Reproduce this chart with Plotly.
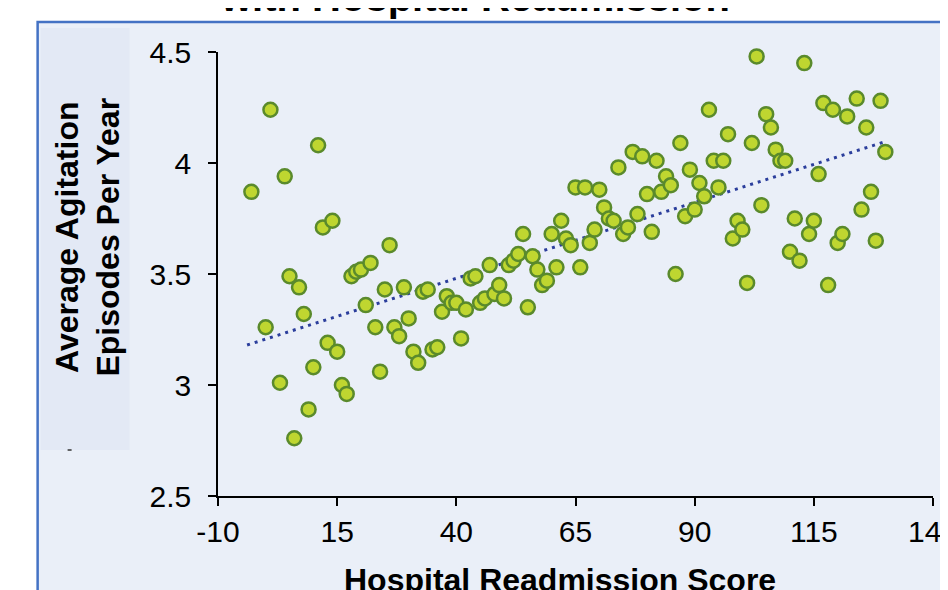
import plotly.graph_objects as go

# ---- data ----
readmission_score = [
    -3, 0, 1, 3, 4, 5, 6, 7, 8, 9, 10, 11, 12, 13, 14, 15, 16, 17, 18, 19,
    20, 21, 22, 23, 24, 25, 26, 27, 28, 29, 30, 31, 32, 33, 34, 35, 36, 37, 38, 39,
    40, 41, 42, 43, 44, 45, 46, 47, 48, 49, 50, 51, 52, 53, 54, 55, 56, 57, 58, 59,
    60, 61, 62, 63, 64, 65, 66, 67, 68, 69, 70, 71, 72, 73, 74, 75, 76, 77, 78, 79,
    80, 81, 82, 83, 84, 85, 86, 87, 88, 89, 90, 91, 92, 93, 94, 95, 96, 97, 98, 99,
    100, 101, 102, 103, 104, 105, 106, 107, 108, 109, 110, 111, 112, 113, 114, 115,
    116, 117, 118, 119, 120, 121, 122, 124, 125, 126, 127, 128, 129, 130,
]
agitation_episodes = [
    3.87, 3.26, 4.24, 3.01, 3.94, 3.49, 2.76, 3.44, 3.32, 2.89, 3.08, 4.08, 3.71, 3.19, 3.74, 3.15, 3.00, 2.96, 3.49, 3.51,
    3.52, 3.36, 3.55, 3.26, 3.06, 3.43, 3.63, 3.26, 3.22, 3.44, 3.30, 3.15, 3.10, 3.42, 3.43, 3.16, 3.17, 3.33, 3.40, 3.37,
    3.37, 3.21, 3.34, 3.48, 3.49, 3.37, 3.39, 3.54, 3.41, 3.45, 3.39, 3.54, 3.56, 3.59, 3.68, 3.35, 3.58, 3.52, 3.45, 3.47,
    3.68, 3.53, 3.74, 3.66, 3.63, 3.89, 3.53, 3.89, 3.64, 3.70, 3.88, 3.80, 3.75, 3.74, 3.98, 3.68, 3.71, 4.05, 3.77, 4.03,
    3.86, 3.69, 4.01, 3.87, 3.94, 3.90, 3.50, 4.09, 3.76, 3.97, 3.79, 3.91, 3.85, 4.24, 4.01, 3.89, 4.01, 4.13, 3.66, 3.74,
    3.70, 3.46, 4.09, 4.48, 3.81, 4.22, 4.16, 4.06, 4.01, 4.01, 3.60, 3.75, 3.56, 4.45, 3.68, 3.74,
    3.95, 4.27, 3.45, 4.24, 3.64, 3.68, 4.21, 4.29, 3.79, 4.16, 3.87, 3.65, 4.28, 4.05,
]
trend_x = [-3.9, 129.8]
trend_y = [3.18, 4.095]

x_ticks = [-10, 15, 40, 65, 90, 115, 140]
x_tick_text = ["-10", "15", "40", "65", "90", "115", "140"]
y_ticks = [2.5, 3, 3.5, 4, 4.5]
y_tick_text = ["2.5", "3", "3.5", "4", "4.5"]

title_text = "with Hospital Readmission"
x_title = "Hospital Readmission Score"
y_title = "Average Agitation<br>Episodes Per Year"

# ---- layout geometry (reference pixels; page body has an 8px margin) ----
OFF = 8
W, H = 948 - OFF, 590 - OFF
L, R, T, B = 217.5 - OFF, 933.0 - OFF, 52.0 - OFF, 496.0 - OFF


def xp(px):
    return (px - OFF - L) / (R - L)


def yp(py):
    return (B - (py - OFF)) / (B - T)


FONT = "Liberation Sans, Arial, sans-serif"

fig = go.Figure()
fig.add_trace(go.Scatter(
    x=trend_x, y=trend_y, mode="lines",
    line=dict(color="#2B3E9C", width=3, dash="3px,5px"),
    hoverinfo="skip", showlegend=False, cliponaxis=False,
))
fig.add_trace(go.Scatter(
    x=readmission_score, y=agitation_episodes, mode="markers",
    marker=dict(size=14, color="#BFD630", line=dict(color="#5A8A2C", width=2.5)),
    showlegend=False, cliponaxis=False,
))

axis_common = dict(
    showgrid=False, zeroline=False, showline=True, linecolor="black", linewidth=1.5,
    ticks="outside", ticklen=8, tickwidth=1.5, tickcolor="black",
    tickfont=dict(family=FONT, size=30, color="black"),
    ticklabeloverflow="allow",
)
fig.update_xaxes(range=[-10, 140], tickvals=x_ticks, ticktext=x_tick_text,
                 ticklabelstandoff=0, **axis_common)
fig.update_yaxes(range=[2.5, 4.5], tickvals=y_ticks, ticktext=y_tick_text,
                 ticklabelstandoff=11, **axis_common)

fig.update_layout(
    width=W, height=H,
    margin=dict(l=L, r=W - R, t=T, b=H - B, pad=0, autoexpand=False),
    paper_bgcolor="white", plot_bgcolor="rgba(0,0,0,0)",
    font=dict(family=FONT, color="black"),
    shapes=[
        dict(type="rect", xref="paper", yref="paper", layer="below",
             x0=xp(37), x1=xp(1000), y0=yp(22), y1=yp(700),
             fillcolor="#EAEFF8", line=dict(color="#4472C4", width=2.5)),
        dict(type="rect", xref="paper", yref="paper", layer="below",
             x0=xp(40), x1=xp(129), y0=yp(28), y1=yp(450),
             fillcolor="#E3E9F5", line=dict(width=0)),
        dict(type="line", xref="paper", yref="paper", layer="above",
             x0=xp(67), x1=xp(71), y0=yp(450), y1=yp(450),
             line=dict(color="#333333", width=1.5)),
    ],
    annotations=[
        dict(text="<b>%s</b>" % title_text, xref="paper", yref="paper",
             x=xp(475), y=yp(-3), xanchor="center", yanchor="middle",
             showarrow=False, font=dict(family=FONT, size=40, color="black")),
        dict(text="<b>%s</b>" % x_title, xref="paper", yref="paper",
             x=xp(560), y=yp(580), xanchor="center", yanchor="middle",
             showarrow=False, font=dict(family=FONT, size=32, color="black")),
        dict(text="<b>%s</b>" % y_title, xref="paper", yref="paper",
             x=xp(87), y=yp(237), xanchor="center", yanchor="middle",
             textangle=-90, showarrow=False,
             font=dict(family=FONT, size=32, color="black")),
    ],
)

fig.write_html("out.html")
